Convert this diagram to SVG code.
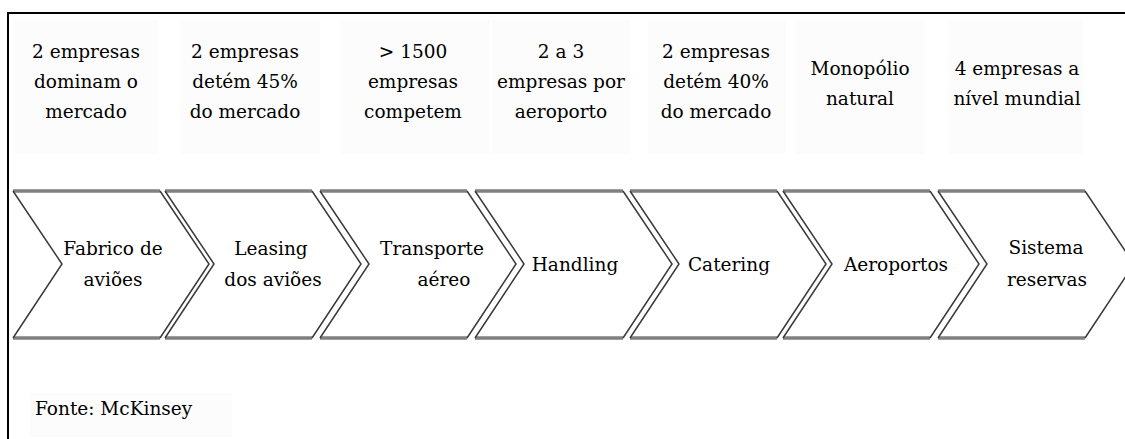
<svg xmlns="http://www.w3.org/2000/svg" width="1125" height="439" viewBox="0 0 1125 439">
<style>
text{font-family:"DejaVu Serif",serif;font-size:18.5px;fill:#000;text-anchor:middle}
.bg{fill:#fcfcfc}
.tb{stroke:#808080;stroke-width:3.5;fill:none}
.sl{stroke:#3a3a3a;stroke-width:1.5;fill:none}
.ft{text-anchor:start}
</style>
<rect width="1125" height="439" fill="#fff"/>
<path d="M8,460 V13 H1140" fill="none" stroke="#000" stroke-width="2"/>
<g id="panels">
<rect class="bg" x="14" y="20" width="144" height="134"/>
<rect class="bg" x="180" y="20" width="140" height="134"/>
<rect class="bg" x="340" y="20" width="150" height="134"/>
<rect class="bg" x="492" y="20" width="138" height="134"/>
<rect class="bg" x="648" y="20" width="138" height="134"/>
<rect class="bg" x="795" y="20" width="130" height="134"/>
<rect class="bg" x="948" y="20" width="135" height="134"/>
<rect class="bg" x="30" y="393" width="202" height="44"/>
</g>
<g id="info1"><text x="86" y="58">2 empresas</text><text x="86" y="88">dominam o</text><text x="86" y="118">mercado</text></g>
<g id="info2"><text x="245" y="58">2 empresas</text><text x="245" y="88">detém 45%</text><text x="245" y="118">do mercado</text></g>
<g id="info3"><text x="413" y="58">&gt; 1500</text><text x="413" y="88">empresas</text><text x="413" y="118">competem</text></g>
<g id="info4"><text x="561" y="58">2 a 3</text><text x="561" y="88">empresas por</text><text x="561" y="118">aeroporto</text></g>
<g id="info5"><text x="716" y="58">2 empresas</text><text x="716" y="88">detém 40%</text><text x="716" y="118">do mercado</text></g>
<g id="info6"><text x="860" y="75">Monopólio</text><text x="860" y="105">natural</text></g>
<g id="info7"><text x="1017" y="75">4 empresas a</text><text x="1017" y="105">nível mundial</text></g>
<g id="chev1"><path class="tb" d="M13,191 H160 M13,338 H160"/><path class="sl" d="M13,191 L62,264 L13,338 M160,191 L209,264 L160,338"/><text x="113" y="255">Fabrico de</text><text x="113" y="286">aviões</text></g>
<g id="chev2"><path class="tb" d="M165,191 H312 M165,338 H312"/><path class="sl" d="M165,191 L214,264 L165,338 M312,191 L361,264 L312,338"/><text x="271" y="255">Leasing</text><text x="273" y="286">dos aviões</text></g>
<g id="chev3"><path class="tb" d="M320,191 H467 M320,338 H467"/><path class="sl" d="M320,191 L369,264 L320,338 M467,191 L516,264 L467,338"/><text x="432" y="255">Transporte</text><text x="444" y="286">aéreo</text></g>
<g id="chev4"><path class="tb" d="M475,191 H623 M475,338 H623"/><path class="sl" d="M475,191 L524,264 L475,338 M623,191 L672,264 L623,338"/><text x="575" y="271">Handling</text></g>
<g id="chev5"><path class="tb" d="M630,191 H777 M630,338 H777"/><path class="sl" d="M630,191 L679,264 L630,338 M777,191 L826,264 L777,338"/><text x="729" y="271">Catering</text></g>
<g id="chev6"><path class="tb" d="M783,191 H930 M783,338 H930"/><path class="sl" d="M783,191 L832,264 L783,338 M930,191 L979,264 L930,338"/><text x="896" y="271">Aeroportos</text></g>
<g id="chev7"><path class="tb" d="M938,191 H1085 M938,338 H1085"/><path class="sl" d="M938,191 L987,264 L938,338 M1085,191 L1134,264 L1085,338"/><text x="1046" y="254">Sistema</text><text x="1047" y="286">reservas</text></g>
<g id="connectors"/>
<g id="source"><text class="ft" x="35" y="415" style="font-size:18.5px">Fonte: McKinsey</text></g>
</svg>
